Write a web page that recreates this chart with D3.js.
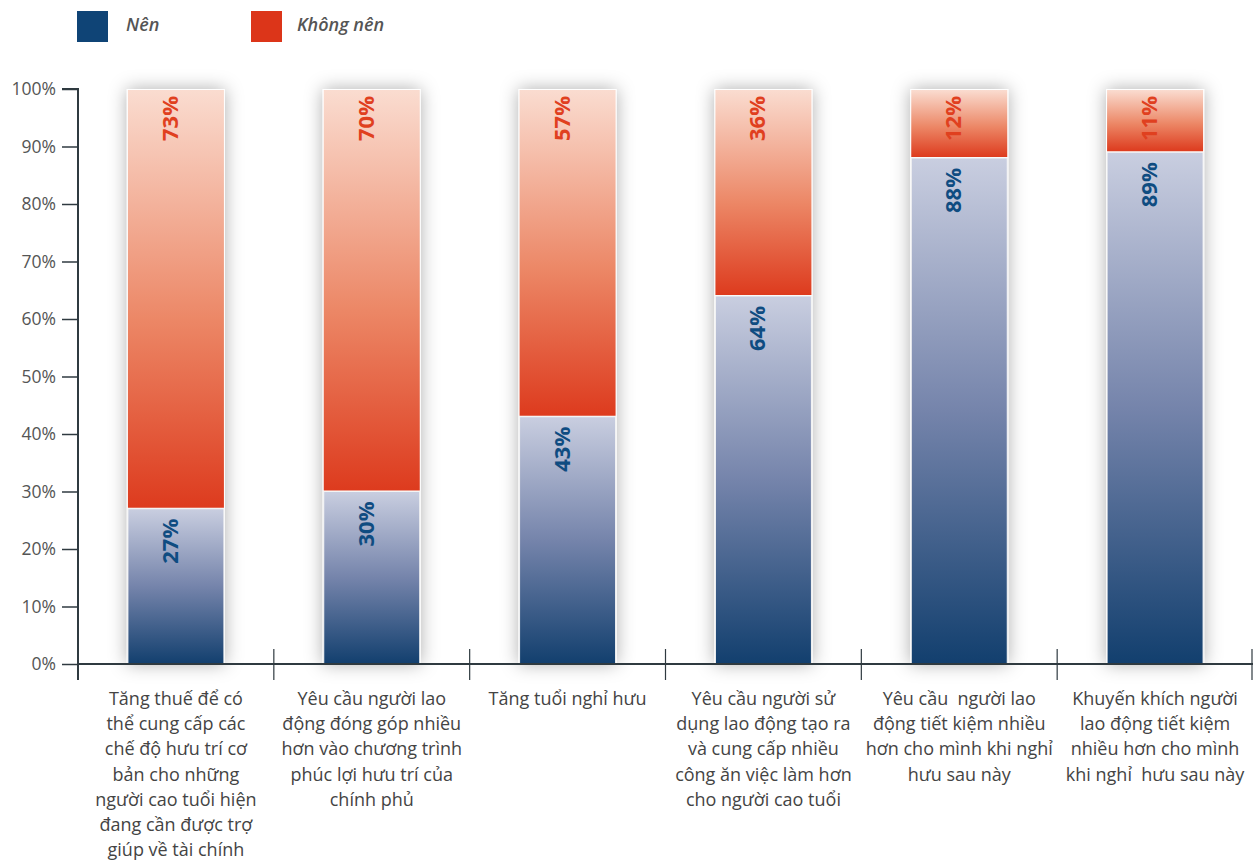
<!DOCTYPE html>
<html><head><meta charset="utf-8">
<script src="https://cdn.jsdelivr.net/npm/d3@7"></script>
<style>body{margin:0;background:#fff}svg{display:block;font-family:"Open Sans",sans-serif}</style>
</head><body><svg id="c" width="1253" height="863"></svg>
<script>
const categories = [
 ["Tăng thuế để có","thể cung cấp các","chế độ hưu trí cơ","bản cho những","người cao tuổi hiện","đang cần được trợ","giúp về tài chính"],
 ["Yêu cầu người lao","động đóng góp nhiều","hơn vào chương trình","phúc lợi hưu trí của","chính phủ"],
 ["Tăng tuổi nghỉ hưu"],
 ["Yêu cầu người sử","dụng lao động tạo ra","và cung cấp nhiều","công ăn việc làm hơn","cho người cao tuổi"],
 ["Yêu cầu  người lao","động tiết kiệm nhiều","hơn cho mình khi nghỉ","hưu sau này"],
 ["Khuyến khích người","lao động tiết kiệm","nhiều hơn cho mình","khi nghỉ  hưu sau này"]
];
const nen = [27,30,43,64,88,89];
const khongNen = [73,70,57,36,12,11];
const seriesNames = ["Nên","Không nên"];
const yTicks = [0,10,20,30,40,50,60,70,80,90,100];

const svg = d3.select("#c");
const pL=78, pR=1253, pT=89, pB=664;
const x = d3.scaleBand().domain(d3.range(categories.length)).range([pL,pR]).paddingInner(0).paddingOuter(0);
const y = d3.scaleLinear().domain([0,100]).range([pB,pT]);
const bw = 98;

const defs = svg.append("defs");
const gb = defs.append("linearGradient").attr("id","gBlue").attr("x1",0).attr("y1",0).attr("x2",0).attr("y2",1);
gb.append("stop").attr("offset","0%").attr("stop-color","#c9cee0");
gb.append("stop").attr("offset","50%").attr("stop-color","#7584ab");
gb.append("stop").attr("offset","100%").attr("stop-color","#123f6e");
const gr = defs.append("linearGradient").attr("id","gRed").attr("x1",0).attr("y1",0).attr("x2",0).attr("y2",1);
gr.append("stop").attr("offset","0%").attr("stop-color","#fadcd0");
gr.append("stop").attr("offset","55%").attr("stop-color","#ec8766");
gr.append("stop").attr("offset","100%").attr("stop-color","#dd3b1e");
const f = defs.append("filter").attr("id","sh").attr("x","-60%").attr("y","-20%").attr("width","220%").attr("height","140%");
f.append("feDropShadow").attr("dx",0).attr("dy",0).attr("stdDeviation",9).attr("flood-color","#000").attr("flood-opacity",0.32);

// legend
const leg = [{c:"#0f4476",x:77,tx:126},{c:"#dc3519",x:251,tx:297}];
leg.forEach((l,i)=>{
  svg.append("rect").attr("x",l.x).attr("y",11).attr("width",31).attr("height",31).attr("fill",l.c);
  svg.append("text").attr("x",l.tx).attr("y",31).attr("font-size",18).attr("font-style","italic").attr("font-weight",600).attr("fill","#555").text(seriesNames[i]);
});

// bars
const g = svg.append("g");
categories.forEach((c,i)=>{
  const cx = x(i)+x.bandwidth()/2;
  const bg = g.append("g");
  bg.append("rect").attr("x",cx-bw/2).attr("y",y(100)).attr("width",bw).attr("height",y(0)-y(100)).attr("fill","#fff").attr("filter","url(#sh)");
  bg.append("rect").attr("x",cx-bw/2+1).attr("y",y(nen[i])).attr("width",bw-2).attr("height",y(0)-y(nen[i])).attr("fill","url(#gBlue)").attr("stroke","#f4f4f4").attr("stroke-width",1);
  bg.append("rect").attr("x",cx-bw/2+1).attr("y",y(100)+1).attr("width",bw-2).attr("height",y(nen[i])-y(100)-2).attr("fill","url(#gRed)");
  bg.append("text").attr("transform",`translate(${cx+2},${y(nen[i])+10}) rotate(-90)`).attr("text-anchor","end").attr("font-size",22).attr("font-weight",700).attr("fill","#0f4c81").text(nen[i]+"%");
  bg.append("text").attr("transform",`translate(${cx+2},${y(100)+7}) rotate(-90)`).attr("text-anchor","end").attr("font-size",22).attr("font-weight",700).attr("fill","#e0401f").text(khongNen[i]+"%");
});

// y axis
const ya = svg.append("g").attr("transform",`translate(${pL},0)`)
  .call(d3.axisLeft(y).tickValues(yTicks).tickFormat(d=>d+"%").tickSize(16).tickPadding(6));
ya.select(".domain").attr("stroke","#2f3a40").attr("stroke-width",2).attr("d",`M-16,${pT}H0V${pB+16}`);
ya.selectAll(".tick line").attr("stroke","#2f3a40").attr("stroke-width",1.5);
ya.selectAll(".tick text").attr("font-size",17.5).attr("fill","#555").attr("font-family","Open Sans");

// x axis
svg.append("line").attr("x1",pL).attr("x2",pR).attr("y1",pB).attr("y2",pB).attr("stroke","#2f3a40").attr("stroke-width",2);
d3.range(1,categories.length).forEach(i=>{
  svg.append("line").attr("x1",x(i)).attr("x2",x(i)).attr("y1",pB-15).attr("y2",pB+16).attr("stroke","#2f3a40").attr("stroke-width",1.2);
});
svg.append("line").attr("x1",pR-1).attr("x2",pR-1).attr("y1",pB-15).attr("y2",pB+16).attr("stroke","#2f3a40").attr("stroke-width",1.2);

// category labels
categories.forEach((lines,i)=>{
  const t = svg.append("text").attr("text-anchor","middle").attr("font-size",18).attr("fill","#444").style("white-space","pre");
  lines.forEach((ln,j)=>{
    t.append("tspan").attr("x",x(i)+x.bandwidth()/2).attr("y",705+j*25.2).text(ln);
  });
});
</script></body></html>
